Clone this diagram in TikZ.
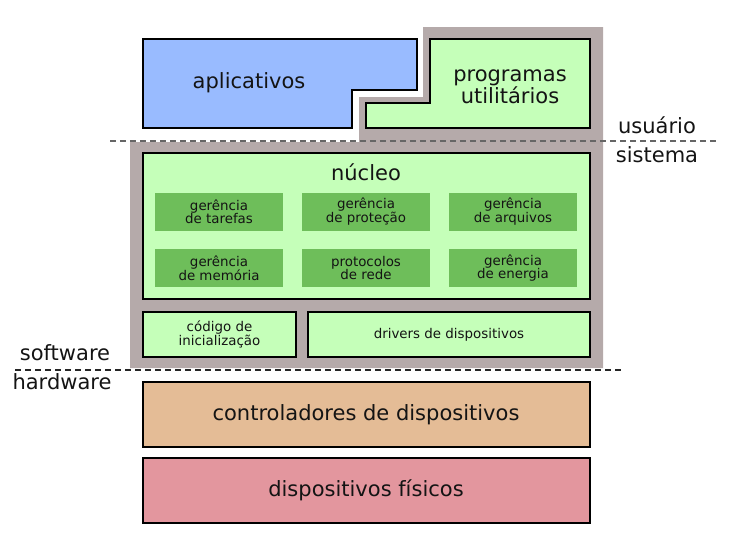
\documentclass[tikz,border=0pt]{standalone}
\usepackage{fontspec}
\setmainfont{DejaVu Sans}
\definecolor{appblue}{RGB}{153,187,255}
\definecolor{lgreen}{RGB}{197,255,185}
\definecolor{dgreen}{RGB}{110,190,90}
\definecolor{bggray}{RGB}{181,170,170}
\definecolor{ctltan}{RGB}{228,188,150}
\definecolor{fispink}{RGB}{227,150,158}
\definecolor{txt}{RGB}{20,20,20}
\tikzset{
  box/.style={draw=black, line width=2.8pt, line join=miter},
  big/.style={font=\fontsize{21}{21}\selectfont, text=txt, align=center, inner sep=0pt},
  small/.style={font=\fontsize{13.4}{13.4}\selectfont, text=txt, align=center, inner sep=0pt},
  module/.style={fill=dgreen, draw=none, minimum width=128pt, minimum height=38pt, small},
  sep/.style={dash pattern=on 6pt off 4pt, line width=1.3pt},
}
\begin{document}
\begin{tikzpicture}[x=1pt, y=-1pt]
\useasboundingbox (0,0) rectangle (729,539);
% gray background
\fill[bggray] (423,27) -- (603,27) -- (603,368) -- (130,368) -- (130,142) -- (359,142) -- (359,97) -- (423,97) -- cycle;
% aplicativos
\draw[box, fill=appblue] (143,39) -- (417,39) -- (417,90) -- (352,90) -- (352,128) -- (143,128) -- cycle;
\node[big] (apl) at (249,83) {aplicativos};
% utilitarios
\draw[box, fill=lgreen] (430,39) -- (590,39) -- (590,128) -- (366,128) -- (366,103) -- (430,103) -- cycle;
\node[big] (util) at (510,87) {programas\\utilitários};
% nucleo
\draw[box, fill=lgreen] (143,153) rectangle (590,299);
\node[big] (nuc) at (366,172) {núcleo};
\node[module] (m1) at (219,211.5) {gerência\\de tarefas};
\node[module] (m2) at (366,211.5) {gerência\\de proteção};
\node[module] (m3) at (513,211.5) {gerência\\de arquivos};
\node[module] (m4) at (219,268) {gerência\\de memória};
\node[module] (m5) at (366,268) {protocolos\\de rede};
\node[module] (m6) at (513,268) {gerência\\de energia};
% codigo / drivers
\draw[box, fill=lgreen] (143,312) rectangle (296,357);
\node[small] (cod) at (219.5,334.5) {código de\\inicialização};
\draw[box, fill=lgreen] (308,312) rectangle (590,357);
\node[small] (drv) at (449,334.5) {drivers de dispositivos};
% hardware
\draw[box, fill=ctltan] (143,382) rectangle (590,447);
\node[big] (ctl) at (366,414.5) {controladores de dispositivos};
\draw[box, fill=fispink] (143,458) rectangle (590,523);
\node[big] (fis) at (366,490.5) {dispositivos físicos};
% separators
\coordinate (u1) at (110,141);
\coordinate (u2) at (717,141);
\draw[sep, draw=black!60] (u1) -- (u2);
\coordinate (h1) at (15,370);
\coordinate (h2) at (622,370);
\draw[sep, draw=black!85] (h1) -- (h2);
\node[big] (usr) at (657,125) {usuário};
\node[big] (sis) at (657,155) {sistema};
\node[big] (sw) at (65,353) {software};
\node[big] (hw) at (62,382) {hardware};
\end{tikzpicture}
\end{document}
